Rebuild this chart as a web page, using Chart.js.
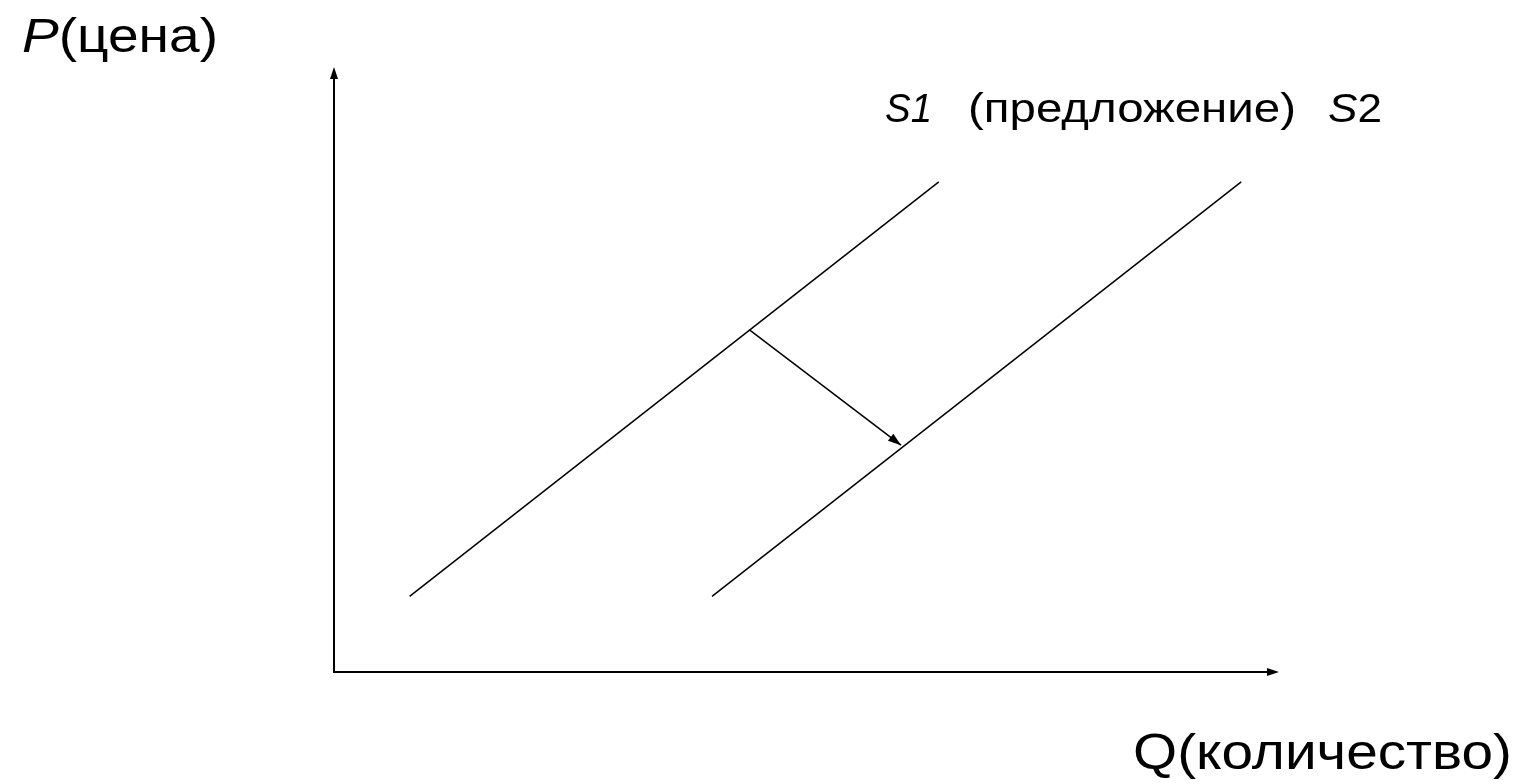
<!DOCTYPE html>
<html>
<head>
<meta charset="utf-8">
<script src="https://cdn.jsdelivr.net/npm/chart.js@4/dist/chart.umd.min.js"></script>
<style>
html,body{margin:0;padding:0;background:#fff;}
#wrap{position:relative;width:1522px;height:784px;}
</style>
</head>
<body>
<div id="wrap"><canvas id="c" width="1522" height="784"></canvas></div>
<script>
// Data (quantity Q on x, price P on y, 0..100 scale)
const s1Q = [8, 64];
const s1P = [12.5, 81];
const s2Q = [40, 96];
const s2P = [12.5, 81];
const shiftQ = [44, 60];
const shiftP = [56.5, 37.5];
const axisMin = 0, axisMax = 100;
const labelP = ['P', '(цена)'];
const labelQ = ['Q', '(количество)'];
const labelS = ['S1', '(предложение)', 'S', '2'];

const toPts = (qs, ps) => qs.map((q, i) => ({x: q, y: ps[i]}));

function arrowHead(ctx, x1, y1, x2, y2, len, half) {
  const a = Math.atan2(y2 - y1, x2 - x1);
  ctx.beginPath();
  ctx.moveTo(x2, y2);
  ctx.lineTo(x2 - len * Math.cos(a) + half * Math.sin(a), y2 - len * Math.sin(a) - half * Math.cos(a));
  ctx.lineTo(x2 - len * Math.cos(a) - half * Math.sin(a), y2 - len * Math.sin(a) + half * Math.cos(a));
  ctx.closePath();
  ctx.fill();
}

const FONT = '"Liberation Sans", Arial, sans-serif';

// draw parts [text, italic] starting at x, stretched horizontally to width w
function drawRich(ctx, parts, x, y, size, w) {
  let total = 0;
  for (const [txt, it] of parts) {
    ctx.font = (it ? 'italic ' : '') + size + 'px ' + FONT;
    total += ctx.measureText(txt).width;
  }
  const sx = w ? w / total : 1;
  ctx.save();
  ctx.translate(x, y);
  ctx.scale(sx, 1);
  let cx = 0;
  for (const [txt, it] of parts) {
    ctx.font = (it ? 'italic ' : '') + size + 'px ' + FONT;
    ctx.fillText(txt, cx, 0);
    cx += ctx.measureText(txt).width;
  }
  ctx.restore();
}

const decor = {
  id: 'decor',
  afterDatasetsDraw(chart) {
    const ctx = chart.ctx;
    const xs = chart.scales.x, ys = chart.scales.y;
    ctx.save();
    ctx.fillStyle = '#000';
    // axis arrowheads
    const ox = xs.getPixelForValue(axisMin), oy = ys.getPixelForValue(axisMin);
    const tx = xs.getPixelForValue(axisMax), ty = ys.getPixelForValue(axisMax);
    arrowHead(ctx, ox, oy, ox, ty, 12, 4);
    arrowHead(ctx, ox, oy, tx, oy, 12, 4);
    // shift arrowhead
    const ax1 = xs.getPixelForValue(shiftQ[0]), ay1 = ys.getPixelForValue(shiftP[0]);
    const ax2 = xs.getPixelForValue(shiftQ[1]), ay2 = ys.getPixelForValue(shiftP[1]);
    arrowHead(ctx, ax1, ay1, ax2, ay2, 13, 4.5);
    // labels
    ctx.textBaseline = 'alphabetic';
    drawRich(ctx, [[labelP[0], true], [labelP[1], false]], 22, 52, 48, 196);
    drawRich(ctx, [[labelQ[0], false], [labelQ[1], false]], 1133, 769, 50, 379);
    drawRich(ctx, [[labelS[0], true]], 885, 122, 41, 47);
    drawRich(ctx, [[labelS[1], false]], 968, 122, 41, 328);
    drawRich(ctx, [[labelS[2], true], [labelS[3], false]], 1328, 122, 41, 54);
    ctx.restore();
  }
};

new Chart(document.getElementById('c'), {
  type: 'scatter',
  data: {
    datasets: [
      {data: toPts(s1Q, s1P), showLine: true, borderColor: '#000', borderWidth: 1.5, pointRadius: 0},
      {data: toPts(s2Q, s2P), showLine: true, borderColor: '#000', borderWidth: 1.5, pointRadius: 0},
      {data: toPts(shiftQ, shiftP), showLine: true, borderColor: '#000', borderWidth: 1.5, pointRadius: 0}
    ]
  },
  options: {
    responsive: false,
    animation: false,
    events: [],
    layout: {padding: {left: 334, top: 67, right: 243, bottom: 112}},
    plugins: {legend: {display: false}, tooltip: {enabled: false}, title: {display: false}},
    scales: {
      x: {type: 'linear', min: axisMin, max: axisMax, display: false},
      y: {type: 'linear', min: axisMin, max: axisMax, display: false}
    }
  },
  plugins: [{
    id: 'axes',
    beforeDatasetsDraw(chart) {
      const ctx = chart.ctx, xs = chart.scales.x, ys = chart.scales.y;
      const ox = xs.getPixelForValue(axisMin), oy = ys.getPixelForValue(axisMin);
      ctx.save();
      ctx.strokeStyle = '#000';
      ctx.lineWidth = 2;
      ctx.beginPath();
      ctx.moveTo(ox, ys.getPixelForValue(axisMax) + 8);
      ctx.lineTo(ox, oy);
      ctx.lineTo(xs.getPixelForValue(axisMax) - 8, oy);
      ctx.stroke();
      ctx.restore();
    }
  }, decor]
});
</script>
</body>
</html>
